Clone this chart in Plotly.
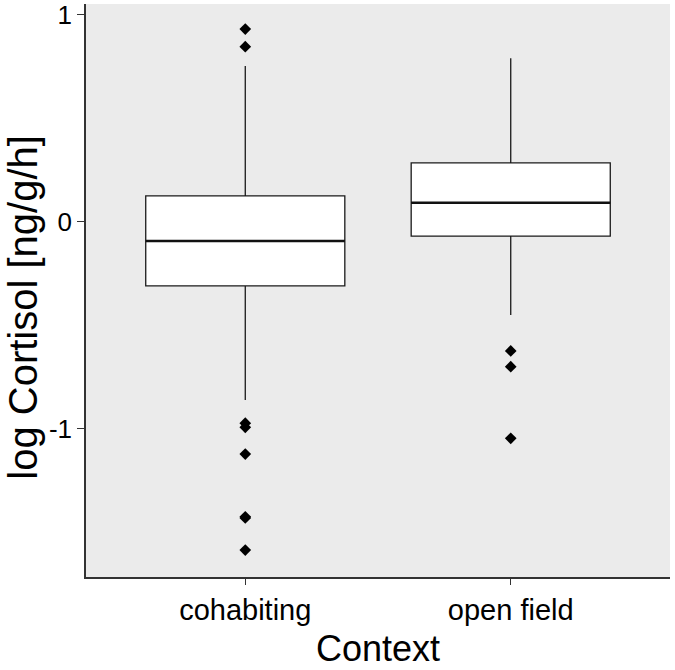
import plotly.graph_objects as go

# ---- data ----
categories = ["cohabiting", "open field"]
positions = [1, 2]
q1 = [-0.309, -0.068]
median = [-0.092, 0.093]
q3 = [0.126, 0.286]
lower_whisker = [-0.86, -0.449]
upper_whisker = [0.754, 0.791]
outliers_cohabiting = [0.932, 0.847, -0.972, -0.992, -1.121, -1.424, -1.430, -1.585]
outliers_open_field = [-0.623, -0.699, -1.045]
outliers = [outliers_cohabiting, outliers_open_field]

y_ticks = [-1, 0, 1]
y_tick_labels = ["-1", "0", "1"]

BOX_WIDTH = 0.75
FONT = "Liberation Sans, Arial, sans-serif"

fig = go.Figure()

fig.add_trace(go.Box(
    x=positions, q1=q1, median=median, q3=q3,
    lowerfence=lower_whisker, upperfence=upper_whisker,
    width=BOX_WIDTH, whiskerwidth=0,
    fillcolor="white",
    line=dict(color="#1a1a1a", width=1.3),
    boxpoints=False, showlegend=False, hoverinfo="skip",
))

# thicker median lines (ggplot style)
for p, m in zip(positions, median):
    fig.add_trace(go.Scatter(
        x=[p - BOX_WIDTH / 2, p + BOX_WIDTH / 2], y=[m, m],
        mode="lines", line=dict(color="#111111", width=2.6),
        showlegend=False, hoverinfo="skip",
    ))

for p, out in zip(positions, outliers):
    fig.add_trace(go.Scatter(
        x=[p] * len(out), y=out, mode="markers",
        marker=dict(symbol="diamond", size=9, color="black"),
        showlegend=False, hoverinfo="skip",
    ))

fig.update_layout(
    width=675, height=670,
    margin=dict(l=86, r=5, t=4, b=93),
    paper_bgcolor="white", plot_bgcolor="#EBEBEB",
    font=dict(family=FONT, color="black"),
    xaxis=dict(
        range=[0.4, 2.6], tickmode="array", tickvals=positions, ticktext=categories,
        showgrid=False, zeroline=False, automargin=False,
        showline=True, linecolor="#333333", linewidth=1.5,
        ticks="outside", ticklen=6, tickcolor="#333333", tickwidth=1.3,
        tickfont=dict(size=29, family=FONT, color="black"),
    ),
    yaxis=dict(
        range=[-1.715, 1.053], tickmode="array", tickvals=y_ticks, ticktext=y_tick_labels,
        showgrid=False, zeroline=False, automargin=False,
        showline=True, linecolor="#333333", linewidth=1.5,
        ticks="outside", ticklen=7, tickcolor="#333333", tickwidth=1.3,
        tickfont=dict(size=26, family=FONT, color="black"),
    ),
    annotations=[
        dict(text="Context", xref="paper", yref="paper", x=0.5, y=-0.124,
             xanchor="center", yanchor="middle", showarrow=False,
             font=dict(size=36, family=FONT, color="black")),
        dict(text="log Cortisol [ng/g/h]", xref="paper", yref="paper",
             x=(23 - 86) / 584, y=0.47, textangle=-90,
             xanchor="center", yanchor="middle", showarrow=False,
             font=dict(size=40, family=FONT, color="black")),
    ],
)

fig.write_html("out.html", config={"displayModeBar": False},
               post_script="document.body.style.margin='0';document.body.style.overflow='hidden';")
